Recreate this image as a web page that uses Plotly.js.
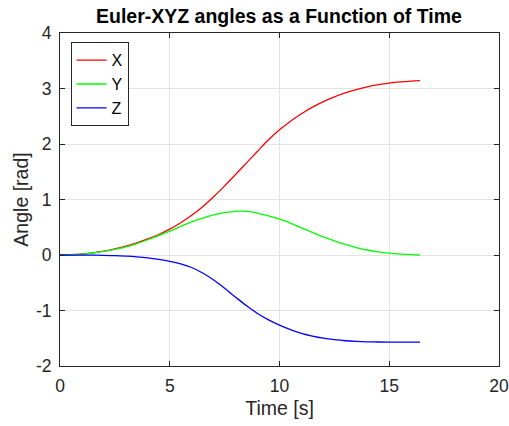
<!DOCTYPE html>
<html>
<head>
<meta charset="utf-8">
<script src="https://cdn.plot.ly/plotly-3.0.1.min.js"></script>
<style>html,body{margin:0;padding:0;background:#fff;}#chart{width:509px;height:426px;}</style>
</head>
<body>
<div id="chart"></div>
<script>
var time = [0,0.5,1,1.5,2,2.5,3,3.5,4,4.5,5,5.5,6,6.5,7,7.5,8,8.5,9,9.5,10,10.5,11,11.5,12,12.5,13,13.5,14,14.5,15,15.5,16,16.4];
var angleX = [0,0.005,0.018,0.04,0.07,0.11,0.16,0.22,0.29,0.37,0.465,0.58,0.715,0.87,1.05,1.245,1.45,1.66,1.87,2.075,2.255,2.41,2.545,2.665,2.765,2.85,2.92,2.98,3.03,3.068,3.097,3.118,3.133,3.141];
var angleY = [0,0.004,0.016,0.036,0.064,0.10,0.145,0.205,0.275,0.35,0.43,0.515,0.595,0.665,0.725,0.765,0.787,0.785,0.755,0.705,0.648,0.576,0.49,0.405,0.325,0.255,0.19,0.135,0.09,0.057,0.033,0.016,0.005,0];
var angleZ = [0,-0.0005,-0.001,-0.003,-0.006,-0.011,-0.02,-0.032,-0.05,-0.078,-0.113,-0.16,-0.225,-0.325,-0.45,-0.6,-0.76,-0.915,-1.055,-1.17,-1.264,-1.345,-1.41,-1.46,-1.498,-1.525,-1.545,-1.557,-1.564,-1.568,-1.57,-1.571,-1.571,-1.571];
var seriesNames = ['X','Y','Z'];
var seriesColors = ['#ff0000','#00ff00','#0000ff'];
var xTicks = [0,5,10,15,20];
var xTickText = ['0','5','10','15','20'];
var yTicks = [-2,-1,0,1,2,3,4];
var yTickText = ['-2','-1','0','1','2','3','4'];

var series = [angleX, angleY, angleZ];
var traces = series.map(function(v, i){
  return {x: time, y: v, type: 'scatter', mode: 'lines', name: seriesNames[i],
    line: {color: seriesColors[i], width: 1.3, shape: 'spline', smoothing: 1}};
});

var fam = 'Liberation Sans, Arial, sans-serif';
var axisCommon = {
  showline: true, mirror: 'ticks', linecolor: '#262626', linewidth: 1,
  ticks: 'inside', ticklen: 5, tickcolor: '#262626', tickwidth: 1,
  showgrid: true, gridcolor: '#e3e3e3', gridwidth: 1, zeroline: false,
  tickfont: {family: fam, size: 17.5, color: '#262626'}
};

var layout = {
  width: 509, height: 426,
  margin: {l: 60, r: 10, t: 33, b: 60},
  paper_bgcolor: '#ffffff', plot_bgcolor: '#ffffff',
  showlegend: true,
  title: {text: '<b>Euler-XYZ angles as a Function of Time</b>', x: 0.548, xanchor: 'center', y: 0.962, yanchor: 'middle',
    font: {family: fam, size: 19.5, color: '#000000'}},
  xaxis: Object.assign({}, axisCommon, {range: [0, 20], tickvals: xTicks, ticktext: xTickText, ticklabelstandoff: 4,
    title: {text: 'Time [s]', standoff: 6, font: {family: fam, size: 19.5, color: '#262626'}}}),
  yaxis: Object.assign({}, axisCommon, {range: [-2, 4], tickvals: yTicks, ticktext: yTickText, ticklabelstandoff: 4,
    title: {text: 'Angle [rad]', standoff: 2, font: {family: fam, size: 19.5, color: '#262626'}}}),
  legend: {x: 0.024, y: 0.972, xanchor: 'left', yanchor: 'top', bgcolor: '#ffffff',
    bordercolor: '#262626', borderwidth: 1, tracegroupgap: 0,
    font: {family: fam, size: 16, color: '#000000'}}
};

Plotly.newPlot('chart', traces, layout, {displayModeBar: false, staticPlot: true});
</script>
</body>
</html>
